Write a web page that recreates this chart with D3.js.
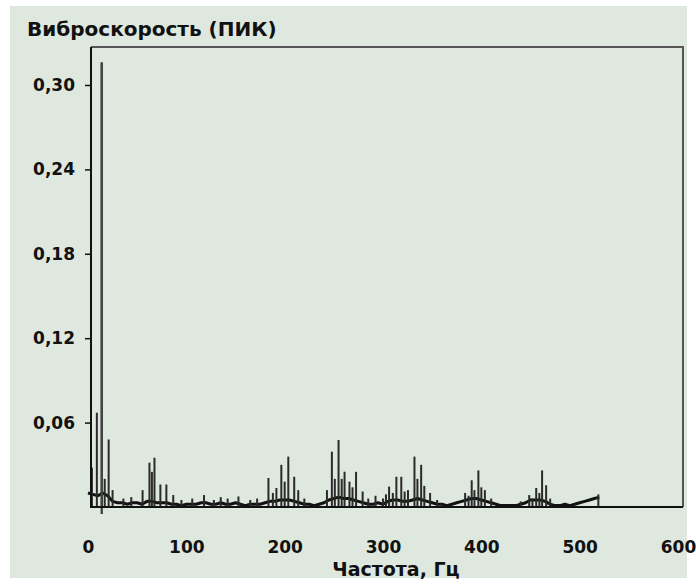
<!DOCTYPE html>
<html>
<head>
<meta charset="utf-8">
<script src="https://cdn.jsdelivr.net/npm/d3@7"></script>
<style>
  html, body { margin: 0; padding: 0; background: #ffffff; }
  svg { display: block; }
  .lbl { font-family: "DejaVu Sans", "Liberation Sans", Arial, sans-serif; font-weight: bold; fill: #111; }
</style>
</head>
<body>
<svg id="chart" width="696" height="586"></svg>
<script>
// Spectrum: discrete peaks [frequency Hz, peak velocity]
const peakFreq = [4, 9, 14, 17, 21, 25,
  36, 44, 55.5, 62.5, 65, 67.6, 73.6, 79.7, 86.7, 95, 106, 118, 128, 135, 142, 153, 165, 172,
  183.5, 188, 191.6, 196.6, 200, 203.7, 209.7, 213.8, 220,
  243, 248, 251, 254.8, 258, 260.9, 265.9, 269, 272.6, 279.3, 285, 292.4, 300,
  303, 306.2, 310, 313.6, 318.6, 322, 325.4, 332, 335, 338.8, 342, 347.9, 355,
  383.5, 387, 390.2, 393, 397, 400, 403.6, 410,
  440, 448.7, 452, 455.8, 459, 461.8, 465.9, 470,
  519];
const peakAmp = [0.028, 0.067, 0.316, 0.020, 0.048, 0.012,
  0.006, 0.007, 0.012, 0.0315, 0.025, 0.035, 0.016, 0.016, 0.0085, 0.005, 0.006, 0.0085, 0.005, 0.007, 0.006, 0.0075, 0.005, 0.006,
  0.0206, 0.010, 0.0135, 0.030, 0.018, 0.0358, 0.0215, 0.012, 0.006,
  0.012, 0.0393, 0.020, 0.0476, 0.020, 0.0251, 0.018, 0.014, 0.025, 0.011, 0.006, 0.008, 0.006,
  0.009, 0.0145, 0.010, 0.0215, 0.0215, 0.011, 0.012, 0.0358, 0.020, 0.030, 0.015, 0.010, 0.005,
  0.010, 0.008, 0.019, 0.012, 0.026, 0.014, 0.012, 0.006,
  0.004, 0.0085, 0.006, 0.0135, 0.010, 0.026, 0.0155, 0.006,
  0.009];

// Background noise floor, every 5 Hz from 0 to 520 Hz
const floorFreq = [0,5,10,15,20,25,30,35,40,45,50,55,60,65,70,75,80,85,90,95,
  100,105,110,115,120,125,130,135,140,145,150,155,160,165,170,175,180,185,190,195,
  200,205,210,215,220,225,230,235,240,245,250,255,260,265,270,275,280,285,290,295,
  300,305,310,315,320,325,330,335,340,345,350,355,360,365,370,375,380,385,390,395,
  400,405,410,415,420,425,430,435,440,445,450,455,460,465,470,475,480,485,490,495,
  500,505,510,515,520];
const floorAmp = [0.010,0.009,0.008,0.010,0.008,0.004,0.003,0.003,0.002,0.003,
  0.003,0.002,0.004,0.004,0.003,0.003,0.003,0.002,0.002,0.001,
  0.002,0.002,0.002,0.003,0.003,0.002,0.002,0.003,0.002,0.002,
  0.003,0.002,0.001,0.002,0.002,0.002,0.003,0.004,0.004,0.005,
  0.005,0.005,0.004,0.003,0.002,0.002,0.001,0.002,0.003,0.005,
  0.006,0.007,0.006,0.006,0.005,0.004,0.003,0.002,0.002,0.003,
  0.002,0.004,0.005,0.005,0.004,0.004,0.005,0.006,0.005,0.004,
  0.003,0.002,0.002,0.001,0.002,0.003,0.004,0.005,0.006,0.006,
  0.005,0.004,0.003,0.002,0.001,0.001,0.001,0.001,0.002,0.003,
  0.005,0.005,0.005,0.004,0.002,0.001,0.001,0.002,0.001,0.002,
  0.003,0.004,0.005,0.006,0.007];

const xTicks = [0, 100, 200, 300, 400, 500, 600];
const yTicks = [0.06, 0.12, 0.18, 0.24, 0.30];

const titleText = "Виброскорость (ПИК)";
const xTitle = "Частота, Гц";

const svg = d3.select("#chart");
const plot = { left: 91, right: 683, top: 47, bottom: 507 };

const x = d3.scaleLinear().domain([0, 600]).range([88, 678]);
const y = d3.scaleLinear().domain([0, 0.327]).range([plot.bottom, plot.top]);

const ruLocale = d3.formatLocale({ decimal: ",", thousands: " ", grouping: [3], currency: ["", ""] });
const fmt = ruLocale.format(".2f");

// panel background
svg.append("rect").attr("x", 10).attr("y", 6).attr("width", 677).attr("height", 572)
  .attr("fill", "#dfe8de");

// title
svg.append("text").attr("class", "lbl").attr("x", 27).attr("y", 36)
  .style("font-size", "20px").text(titleText);

// noise floor line
const floorData = floorFreq.map((f, i) => [f, floorAmp[i]]);
svg.append("path").datum(floorData)
  .attr("fill", "none").attr("stroke", "#111").attr("stroke-width", 3)
  .attr("stroke-linejoin", "round")
  .attr("d", d3.line().x(d => x(d[0])).y(d => y(d[1])));

// peaks as stems
const peaks = peakFreq.map((f, i) => ({ f, a: peakAmp[i] }));
svg.append("g").selectAll("line").data(peaks).join("line")
  .attr("x1", d => x(d.f)).attr("x2", d => x(d.f))
  .attr("y1", y(0)).attr("y2", d => y(d.a))
  .attr("stroke", "#2a2a2a").attr("stroke-width", 2);

// cursor at the dominant peak
const maxPeak = peaks.reduce((m, p) => p.a > m.a ? p : m, peaks[0]);
svg.append("line").attr("x1", x(maxPeak.f)).attr("x2", x(maxPeak.f))
  .attr("y1", y(0) + 7).attr("y2", y(maxPeak.a))
  .attr("stroke", "#444").attr("stroke-width", 2.4);

// frame: top/right grey, left/bottom black
svg.append("path")
  .attr("d", `M${plot.left},${plot.top}H${plot.right}V${plot.bottom}`)
  .attr("fill", "none").attr("stroke", "#555").attr("stroke-width", 2);
svg.append("path")
  .attr("d", `M${plot.left},${plot.top}V${plot.bottom}H${plot.right}`)
  .attr("fill", "none").attr("stroke", "#111").attr("stroke-width", 2);

// y axis ticks
const yAxis = svg.append("g").attr("transform", `translate(${plot.left},0)`)
  .call(d3.axisLeft(y).tickValues(yTicks).tickSize(6).tickPadding(10).tickFormat(fmt));
yAxis.select(".domain").remove();
yAxis.selectAll("line").attr("stroke", "#111").attr("stroke-width", 1.5);
yAxis.selectAll("text").attr("class", "lbl").style("font-size", "17px").attr("fill", "#111");

// x axis labels
const xAxis = svg.append("g").attr("transform", `translate(0,${plot.bottom})`)
  .call(d3.axisBottom(x).tickValues(xTicks).tickSize(0).tickPadding(34).tickFormat(d3.format("d")));
xAxis.select(".domain").remove();
xAxis.selectAll("text").attr("class", "lbl").style("font-size", "17px").attr("fill", "#111");

svg.append("text").attr("class", "lbl").attr("x", 396).attr("y", 576)
  .attr("text-anchor", "middle").style("font-size", "19px").text(xTitle);
</script>
</body>
</html>
